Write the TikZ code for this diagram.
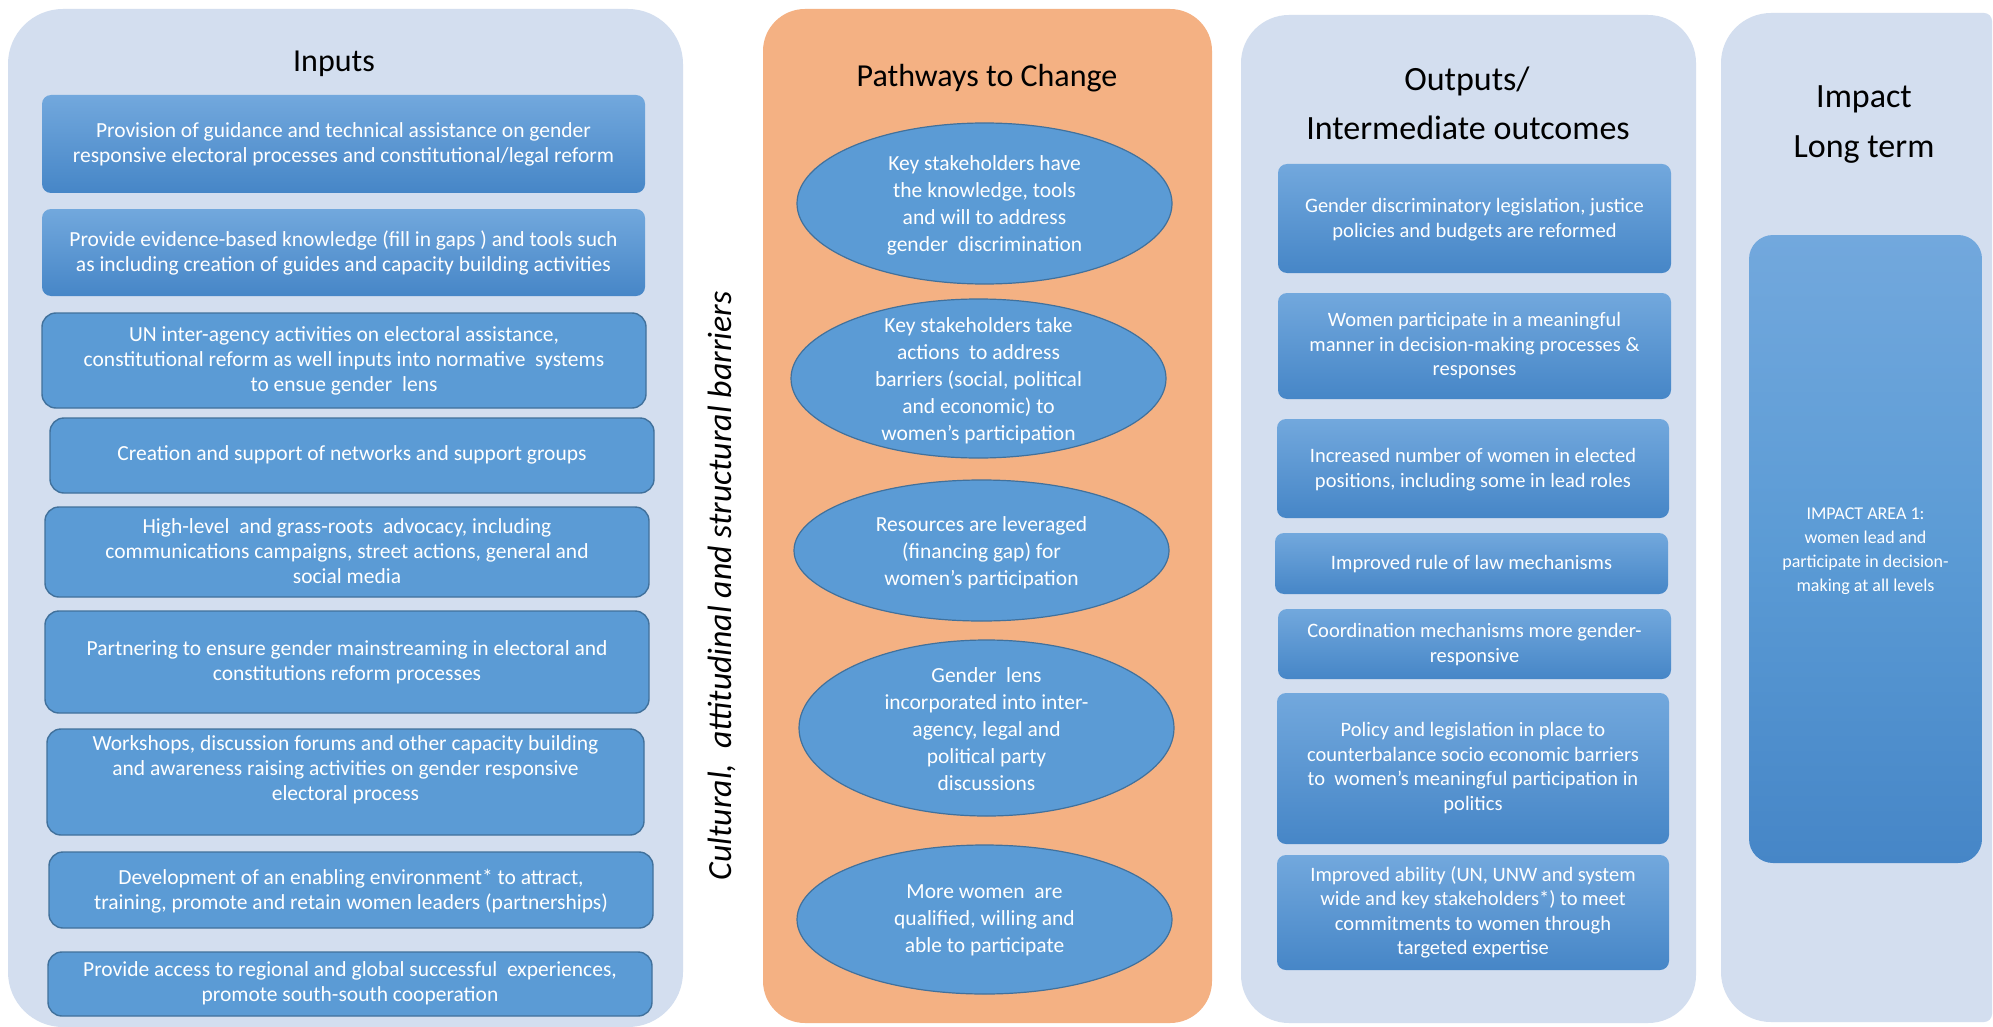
\documentclass[tikz,border=0pt]{standalone}
\usepackage{fontspec}
\setmainfont{Carlito}
\usetikzlibrary{shapes.geometric}
\definecolor{panelblue}{HTML}{D3DEEF}
\definecolor{orangep}{HTML}{F4B183}
\definecolor{boxblue}{HTML}{5B9BD5}
\definecolor{boxedge}{HTML}{41719C}
\definecolor{gradtop}{HTML}{72A8DD}
\definecolor{gradbot}{HTML}{4686C7}
\begin{document}
\begin{tikzpicture}[x=1pt,y=1pt]
\tikzset{
 pnl/.style={fill=panelblue, draw=none},
 fbox/.style={fill=boxblue, draw=boxedge, line width=1.4pt, rounded corners=14pt},
 gbox/.style={top color=gradtop, bottom color=gradbot, draw=none, rounded corners=9pt},
 ovl/.style={fill=boxblue, draw=boxedge, line width=1.2pt},
 btxt/.style={text=white, align=center, inner sep=0pt, font=\fontsize{21.5}{25}\selectfont},
 etxt/.style={text=white, align=center, inner sep=0pt, font=\fontsize{21.5}{27}\selectfont},
 otxt/.style={text=white, align=center, inner sep=0pt, font=\fontsize{20.5}{24.5}\selectfont},
 itxt/.style={text=white, align=center, inner sep=0pt, font=\fontsize{18}{24}\selectfont},
 ttl/.style={text=black, inner sep=0pt, anchor=base, font=\fontsize{32}{40}\selectfont},
 ttlb/.style={text=black, inner sep=0pt, anchor=base, font=\fontsize{34}{40}\selectfont},
}
\fill[white] (0,0) rectangle (1993,-1027);
\useasboundingbox (0,0) rectangle (1993,-1027);

% panels
\path[pnl, rounded corners=55pt] (8,-9) rectangle (683,-1027);
\path[fill=orangep, rounded corners=42pt] (763,-9) rectangle (1212,-1023);
\path[pnl, rounded corners=48pt] (1241,-15) rectangle (1696,-1023);
\path[pnl, rounded corners=8pt] (1850,-13) -- (1992,-13) -- (1992,-1022) -- (1850,-1022)
  [rounded corners=50pt] -- (1721,-1022) -- (1721,-13) -- cycle;

% titles
\node[ttl] (tin) at (334,-72) {Inputs};
\node[ttl] (tpw) at (987,-87) {Pathways to Change};
\node[ttlb] (tout1) at (1467,-91) {Outputs/};
\node[ttlb] (tout2) at (1468,-140) {Intermediate outcomes};
\node[ttlb] (timp1) at (1864,-108) {Impact};
\node[ttlb] (timp2) at (1864,-158) {Long term};

% side label
\node[rotate=90, inner sep=0pt, font=\itshape\fontsize{33.8}{40}\selectfont] (barriers) at (722,-586)
  {Cultural,\ \ attitudinal and structural barriers};

% inputs boxes
\path[gbox] (42,-95) rectangle (645,-193);
\node[btxt] (in1) at (343.5,-144) {Provision of guidance and technical assistance on gender\\responsive electoral processes and constitutional/legal reform};
\path[gbox] (42,-209) rectangle (645,-296);
\node[btxt] (in2) at (343.5,-252.5) {Provide evidence-based knowledge (fill in gaps ) and tools such\\as including creation of guides and capacity building activities};
\path[fbox] (42,-313) rectangle (646,-408);
\node[btxt] (in3) at (344,-361) {UN inter-agency activities on electoral assistance,\\constitutional reform as well inputs into normative\ \ systems\\to ensue gender\ \ lens};
\path[fbox] (50,-418) rectangle (654,-493);
\node[btxt] (in4) at (352,-455) {Creation and support of networks and support groups};
\path[fbox] (45,-507) rectangle (649,-597);
\node[btxt] (in5) at (347,-551) {High-level\ \ and grass-roots\ \ advocacy, including\\communications campaigns, street actions, general and\\social media};
\path[fbox] (45,-611) rectangle (649,-713);
\node[btxt] (in6) at (347,-662.5) {Partnering to ensure gender mainstreaming in electoral and\\constitutions reform processes};
\path[fbox] (47,-729) rectangle (644,-835);
\node[btxt] (in7) at (345.5,-770) {Workshops, discussion forums and other capacity building\\and awareness raising activities on gender responsive\\electoral process};
\path[fbox] (49,-852) rectangle (653,-928);
\node[btxt] (in8) at (351,-891.5) {Development of an enabling environment* to attract,\\training, promote and retain women leaders (partnerships)};
\path[fbox] (48,-952) rectangle (652,-1016);
\node[btxt] (in9) at (350,-983.5) {Provide access to regional and global successful\ \ experiences,\\promote south-south cooperation};

% pathways ellipses
\path[ovl] (984.5,-203.5) ellipse [x radius=187.5pt, y radius=80.5pt];
\node[etxt] (pw1) at (984.5,-205.5) {Key stakeholders have\\the knowledge, tools\\and will to address\\gender\ \ discrimination};
\path[ovl] (978.5,-378.5) ellipse [x radius=187.5pt, y radius=79.5pt];
\node[etxt] (pw2) at (978.5,-381) {Key stakeholders take\\actions\ \ to address\\barriers (social, political\\and economic) to\\women’s participation};
\path[ovl] (981.5,-550.5) ellipse [x radius=187.5pt, y radius=70.5pt];
\node[etxt] (pw3) at (981.5,-553) {Resources\ are leveraged\\(financing gap) for\\women’s participation};
\path[ovl] (986.5,-728) ellipse [x radius=187.5pt, y radius=88pt];
\node[etxt] (pw4) at (986.5,-729.5) {Gender\ \ lens\\incorporated into inter-\\agency, legal and\\political party\\discussions};
\path[ovl] (984.5,-919.5) ellipse [x radius=187.5pt, y radius=74.5pt];
\node[etxt] (pw5) at (984.5,-920) {More women\ \ are\\qualified, willing and\\able to participate};

% outputs boxes
\path[gbox] (1278,-164) rectangle (1671,-273);
\node[otxt] (out1) at (1474.5,-219.5) {Gender discriminatory legislation, justice\\policies and budgets are reformed};
\path[gbox] (1278,-293) rectangle (1671,-399);
\node[otxt] (out2) at (1474.5,-346) {Women participate in a meaningful\\manner in decision-making processes \&\\responses};
\path[gbox] (1277,-419) rectangle (1669,-518);
\node[otxt] (out3) at (1473,-469.5) {Increased number of women in elected\\positions, including some in lead roles};
\path[gbox] (1275,-533) rectangle (1668,-594);
\node[otxt] (out4) at (1471.5,-564) {Improved rule of law mechanisms};
\path[gbox] (1278,-609) rectangle (1671,-679);
\node[otxt] (out5) at (1474.5,-644.5) {Coordination mechanisms more gender-\\responsive};
\path[gbox] (1277,-693) rectangle (1669,-844);
\node[otxt] (out6) at (1473,-768) {Policy and legislation in place to\\counterbalance socio economic barriers\\to\ \ women’s meaningful participation in\\politics};
\path[gbox] (1277,-855) rectangle (1669,-970);
\node[otxt] (out7) at (1473,-912.5) {Improved ability (UN, UNW and system\\wide and key stakeholders*) to meet\\commitments to women through\\targeted expertise};

% impact box
\path[top color=gradtop, bottom color=gradbot, middle color=boxblue, rounded corners=24pt] (1749,-235) rectangle (1982,-863);
\node[itxt] (imp) at (1865.5,-551) {IMPACT AREA 1:\\women lead and\\participate in decision-\\making at all levels};
\end{tikzpicture}
\end{document}
